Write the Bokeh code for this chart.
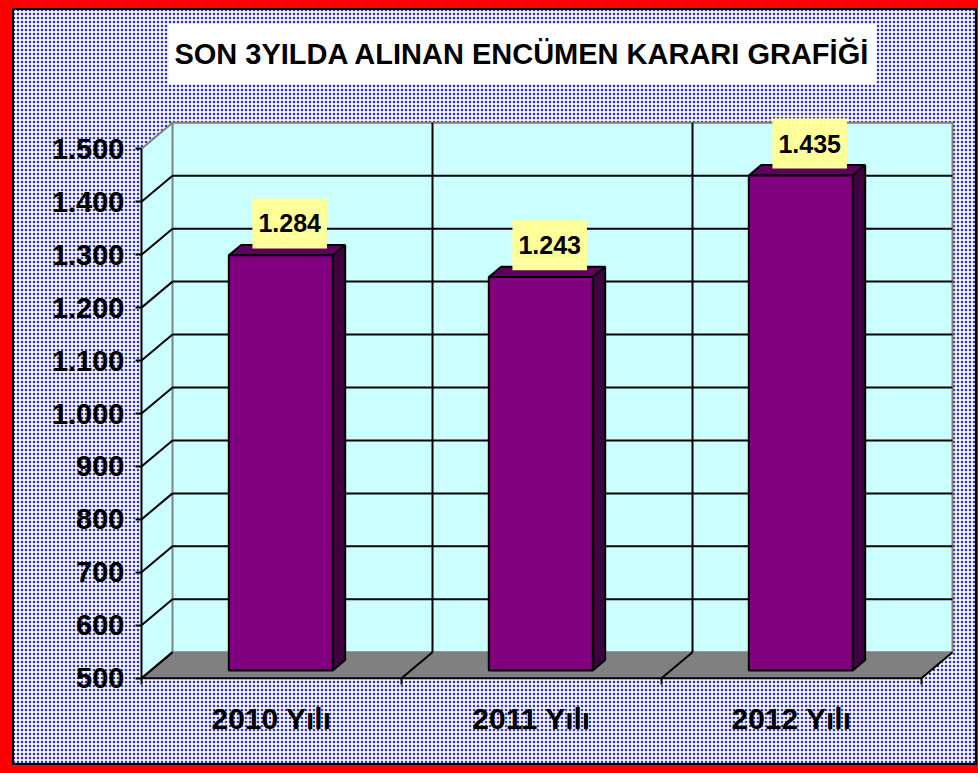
from bokeh.plotting import figure
from bokeh.models import Range1d, FixedTicker
from bokeh.core.properties import value
from bokeh.embed import file_html
from bokeh.resources import INLINE

# ---------------- data ----------------
categories = ["2010 Yılı", "2011 Yılı", "2012 Yılı"]
counts = [1284, 1243, 1435]
y_ticks = [500, 600, 700, 800, 900, 1000, 1100, 1200, 1300, 1400, 1500]
y_tick_labels = ["500", "600", "700", "800", "900", "1.000", "1.100",
                 "1.200", "1.300", "1.400", "1.500"]
value_labels = [f"{v:,}".replace(",", ".") for v in counts]
title_text = "SON 3YILDA ALINAN ENCÜMEN KARARI GRAFİĞİ"

# ---------------- layout / style ----------------
FONT = "Liberation Sans"
W, H = 978, 773
ML, MR, MT, MB = 139, 22, 20, 93
PX_CAT = 260.0      # pixels per category
PX_VAL = 0.5294     # pixels per value unit
n = len(categories)
Y0, Y1 = y_ticks[0], y_ticks[-1]
DX = 31 / PX_CAT    # 3D depth, x
DY = 26 / PX_VAL    # 3D depth, y
BAR_W = 0.4
F0, FD = 0.3, 0.4   # bar front position / bar depth (fractions of depth)

x_start = -2 / PX_CAT
x_end = x_start + (W - ML - MR) / PX_CAT
y_start = Y0 - 2.3 / PX_VAL
y_end = y_start + (H - MT - MB) / PX_VAL

p = figure(width=W, height=H, output_backend="svg", toolbar_location=None,
           x_range=Range1d(x_start, x_end), y_range=Range1d(y_start, y_end),
           min_border_left=ML, min_border_right=MR, min_border_top=MT,
           min_border_bottom=MB, border_fill_color=None,
           background_fill_color=None, outline_line_color=None)
p.grid.visible = False

p.styles = {
    "background-color": "#ffffff",
    "background-image": "radial-gradient(circle at 2px 2px, #3434a6 0px, #3434a6 0.7px, #b2b2e4 1.3px, #ffffff 1.9px)",
    "background-size": "4px 4px",
    "box-shadow": ("inset 12px 0 0 0 #ff0000, inset 0 8px 0 0 #ff0000, "
                   "inset -1px 0 0 0 #ff0000, inset 0 -8px 0 0 #ff0000, "
                   "inset 14px 0 0 0 #000000, inset 0 10px 0 0 #000000, "
                   "inset -3px 0 0 0 #000000, inset 0 -10px 0 0 #000000"),
}

WALL = "#ccffff"
EDGE = "#808080"

# side wall
p.patch([0, 0, DX, DX], [Y0, Y1, Y1 + DY, Y0 + DY], fill_color=WALL, line_color=None)
# back wall
p.quad(left=DX, right=n + DX, bottom=Y0 + DY, top=Y1 + DY,
       fill_color=WALL, line_color=EDGE, line_width=2)
# floor
p.patch([0, n, n + DX, DX], [Y0, Y0, Y0 + DY, Y0 + DY], fill_color="#808080",
        line_color=None)

inner = y_ticks[1:-1]
# back wall grid
p.segment(x0=[DX] * len(inner), y0=[v + DY for v in inner],
          x1=[n + DX] * len(inner), y1=[v + DY for v in inner],
          line_color="black", line_width=2)
bounds = list(range(1, n))
p.segment(x0=[b + DX for b in bounds], y0=[Y0 + DY] * len(bounds),
          x1=[b + DX for b in bounds], y1=[Y1 + DY] * len(bounds),
          line_color="black", line_width=2)
# side wall grid
p.segment(x0=[0] * (len(inner) + 1), y0=[Y0] + inner,
          x1=[DX] * (len(inner) + 1), y1=[v + DY for v in [Y0] + inner],
          line_color="black", line_width=2)
p.segment(x0=[0], y0=[Y1], x1=[DX], y1=[Y1 + DY], line_color=EDGE, line_width=2)
# floor diagonals
allb = list(range(0, n + 1))
p.segment(x0=allb, y0=[Y0] * len(allb), x1=[b + DX for b in allb],
          y1=[Y0 + DY] * len(allb), line_color="black", line_width=2)
# front axis lines
p.segment(x0=[0, 0], y0=[Y0, Y0], x1=[n, 0], y1=[Y0, Y1],
          line_color="black", line_width=2)

# bars
cx = [i + 0.5 for i in range(n)]
x0s = [c - BAR_W / 2 + F0 * DX for c in cx]
x1s = [x + BAR_W for x in x0s]
yb = Y0 + F0 * DY
yts = [v + F0 * DY for v in counts]
ddx, ddy = FD * DX, FD * DY
p.patches(xs=[[a, b, b + ddx, a + ddx] for a, b in zip(x0s, x1s)],
          ys=[[t, t, t + ddy, t + ddy] for t in yts],
          fill_color="#5e005e", line_color="black", line_width=2)
p.patches(xs=[[b, b + ddx, b + ddx, b] for b in x1s],
          ys=[[yb, yb + ddy, t + ddy, t] for t in yts],
          fill_color="#3e003e", line_color="black", line_width=2)
p.quad(left=x0s, right=x1s, bottom=yb, top=yts, fill_color="#800080",
       line_color="black", line_width=2)

# value labels
p.text(x=[c + 0.07 for c in cx], y=[v + 75 for v in counts], text=value_labels,
       text_align="center", text_baseline="middle",
       text_font=value(FONT), text_font_style="bold", text_font_size="25px",
       text_color="black", background_fill_color="#ffff99",
       padding=dict(left=6, right=6, top=16, bottom=16))

# title (inside the frame's upper part)
p.text(x=[1.465], y=[1679], text=[title_text],
       text_align="center", text_baseline="middle",
       text_font=value(FONT), text_font_style="bold", text_font_size="29px",
       text_color="black", background_fill_color="white",
       padding=dict(left=6, right=6, top=14, bottom=14))

# axes
ya = p.yaxis[0]
ya.ticker = FixedTicker(ticks=y_ticks)
ya.major_label_overrides = dict(zip(y_ticks, y_tick_labels))
ya.axis_line_color = None
ya.major_tick_line_color = "black"
ya.major_tick_line_width = 2
ya.major_tick_in = 2
ya.major_tick_out = 4
ya.minor_tick_line_color = None
ya.major_label_text_font = FONT
ya.major_label_text_font_style = "bold"
ya.major_label_text_font_size = "29px"
ya.major_label_text_color = "black"
ya.major_label_standoff = 11

xa = p.xaxis[0]
xa.ticker = FixedTicker(ticks=cx, minor_ticks=allb)
xa.major_label_overrides = dict(zip(cx, categories))
xa.axis_line_color = None
xa.major_tick_line_color = None
xa.major_tick_in = 0
xa.major_tick_out = 0
xa.minor_tick_line_color = "black"
xa.minor_tick_line_width = 2
xa.minor_tick_in = 2
xa.minor_tick_out = 4
xa.major_label_text_font = FONT
xa.major_label_text_font_style = "bold"
xa.major_label_text_font_size = "30px"
xa.major_label_text_color = "black"
xa.major_label_standoff = 17

open("out.html", "w").write(file_html(p, INLINE))
